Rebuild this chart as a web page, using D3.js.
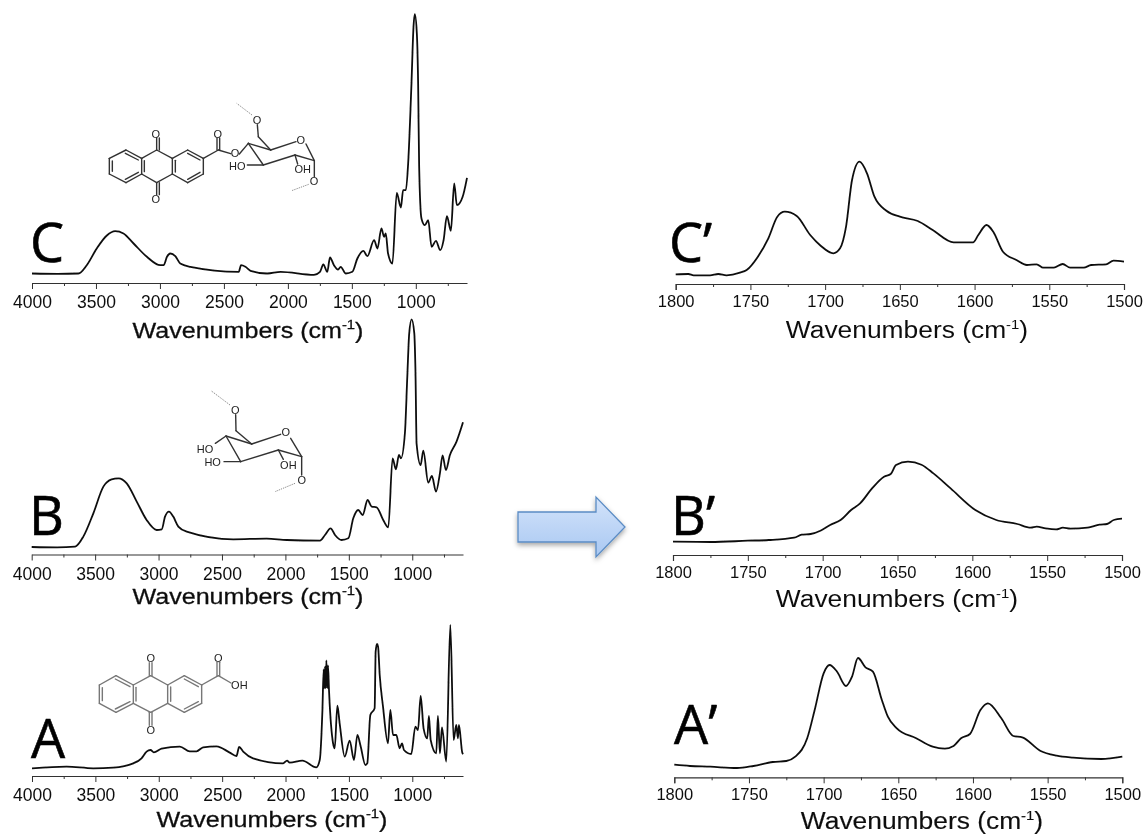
<!DOCTYPE html>
<html>
<head>
<meta charset="utf-8">
<script src="https://cdn.jsdelivr.net/npm/d3@7"></script>
<style>
  html, body { margin: 0; background: #fff; }
  svg { display: block; }
</style>
</head>
<body>
<svg width="1148" height="835"></svg>
<script>
// spectra: wavenumber (cm-1) and intensity (a.u. above baseline)
const cWave = [4000,3800,3637,3572,3494,3415,3350,3285,3206,3102,2997,2971,2945,2919,2880,2841,2762,2384,2366,2332,2292,2162,2057,1796,1749,1723,1692,1671,1640,1608,1587,1548,1496,1457,1410,1379,1326,1300,1269,1248,1235,1217,1183,1149,1117,1099,1078,1060,1034,1018,1008,992,982,974,956,929,903,877,843,809,783,757,726,700,679,634,600];
const cInt = [0,-0.3,0,8.3,25,38,42.3,40,30,16.7,8.3,8.3,16.7,20,17.3,10,6.7,1.7,8.3,6.7,2.7,0,1.7,-1.3,1.7,9,1.7,16,8.3,4,6.7,0,1.7,15,22.7,17.3,33.3,25,45,36.7,40,20,10,80.7,66,83.3,83.3,110,190,247,259.3,240,190,106.7,55,48.3,53.3,26.7,32.7,23.3,33.3,57.3,42.7,90,68.3,76.7,95.7];

const bWave = [4000,3800,3658,3593,3514,3435,3370,3317,3251,3172,3094,3015,2975,2949,2918,2884,2844,2778,2411,2148,1990,1728,1688,1644,1609,1557,1504,1465,1426,1391,1352,1320,1281,1229,1189,1155,1129,1105,1089,1058,1039,1024,1005,984,974,966,934,913,874,845,813,782,761,735,703,651,600];
const bInt = [0.3,0,0.7,10.7,34,60.7,68,69,64,45.7,27.3,17.3,18,30.7,35.7,30.7,20.7,15.7,8,8.7,7.3,6.7,12.3,19,12.3,7.3,9,29,37.3,32.3,47.3,40.7,40,27.3,20,89,78,92.3,89,114,171,214,228,214,171,104,82.3,96.7,64.7,71.3,55.7,74,92,77.3,92.3,105.7,125];

const aWave = [4000,3727,3517,3359,3201,3136,3096,3065,3039,2978,2834,2755,2702,2650,2545,2440,2387,2366,2334,2256,2019,1988,1967,1867,1757,1730,1709,1699,1694,1688,1683,1678,1670,1665,1657,1625,1612,1591,1573,1533,1494,1460,1433,1407,1370,1355,1331,1297,1289,1278,1270,1257,1231,1192,1173,1152,1126,1100,1081,1066,1008,976,955,934,911,882,869,855,811,798,782,766,732,700,674,653,640,632,606,600];
const aInt = [0,1.7,0,0.7,5,10,16.7,18.3,16,19.7,21.7,17,17,21,22,15.7,12.3,21.3,16.7,10,5,7.7,5.7,7.7,1,8.3,58,99,80,101.7,80,108,80,103,78,25,20,62.7,45,11.7,27.7,8.3,33.3,21.7,3.3,5,53.3,60,116.7,124.3,121.7,93.3,61.7,25,58.3,33.3,33.3,20,25,18.3,14.3,41.7,38.3,72.3,40,30,52.3,28.3,15,52.3,15,41,6.7,143.3,28.3,43.3,30,43.3,15.7,14];

const c2Wave = [1800,1791.5,1788,1777,1771.5,1766,1757,1752.5,1745,1738,1732,1727,1719,1710,1703,1694.5,1690,1686,1682,1677,1672,1667,1659,1650,1638,1628,1614,1601,1597.5,1592,1587.5,1581,1572,1565,1558.5,1554,1547,1541,1536,1527,1522,1512,1507,1500];
const c2Int = [0.7,1,-0.3,-0.3,1,-0.3,2.3,5,18.3,36.7,58.3,63.3,59,40,29.3,21.7,26.7,48.3,95,113.3,101.7,78.3,64.3,58.3,54,45,32.7,32.7,40,50,43.3,23.3,15,10,10.7,7.3,7.3,11,7.3,7.3,10,10.7,14.3,13.3];

const b2Wave = [1800,1775,1750,1736,1719,1714,1708,1701.5,1695,1688,1681,1675,1667,1659,1654.5,1651,1643,1634,1626,1614.5,1598,1584,1570,1561,1557,1551,1544,1539.5,1534.5,1523,1515,1510,1505.5,1500];
const b2Int = [0,-0.3,1,1.7,4,7,7.7,11,16.7,21.7,31.7,38.3,53.3,65,67.7,76.7,80,77,68.3,53.3,31.7,21.7,17.7,14,15,13.3,12.3,14,13,14,17,17.7,21.7,23];

const a2Wave = [1800,1789.5,1776,1758,1747,1734,1725,1719,1711,1706,1700,1696,1691,1685,1681,1677,1672,1667,1661,1657,1651,1638,1627,1619,1613,1608,1602,1595,1590,1581,1573,1567,1555,1544,1533,1514,1500];
const a2Int = [0.3,-1,-1.7,-3,-1,3,4,8.3,26.7,55,91.7,100,93.3,79,88.3,107,97.7,93.3,65,48.3,36.7,26.7,18.3,16.3,19,26.7,31,55,61.7,46.7,29,27.7,14.3,9.3,7.3,6,8.3];

const wideTicks = [4000,3500,3000,2500,2000,1500,1000];
const wideMinor = [3750,3250,2750,2250,1750,1250,750];
const narrowTicks = [1800,1750,1700,1650,1600,1550,1500];
const narrowMinor = [1775,1725,1675,1625,1575,1525];

const titleText = "Wavenumbers (cm";

// layout of the six panels
const panels = [
  {label:"C", wave:cWave, val:cInt, dom:[4000,600], x0:32, x1:467, axisY:283, baseY:273.5, lx:30, ly:262, tx:248, ty:338, major:wideTicks, minor:wideMinor, fs:17.5, pad:7, outer:0, tf:22, sx:1.14, ts:0.3},
  {label:"B", wave:bWave, val:bInt, dom:[4000,600], x0:31.7, x1:463, axisY:554.5, baseY:547.3, lx:29, ly:535, tx:248, ty:604, major:wideTicks, minor:wideMinor, fs:17.5, pad:7, outer:0, tf:22, sx:1.14, ts:0.3},
  {label:"A", wave:aWave, val:aInt, dom:[4000,600], x0:32, x1:463, axisY:776, baseY:768.3, lx:31, ly:758, tx:272, ty:827, major:wideTicks, minor:wideMinor, fs:17.5, pad:7, outer:0, tf:22, sx:1.14, ts:0.3},
  {label:"C’", wave:c2Wave, val:c2Int, dom:[1800,1500], x0:675.7, x1:1124, axisY:284, baseY:275, lx:669, ly:262, tx:907, ty:338, major:narrowTicks, minor:narrowMinor, fs:16.5, pad:5, outer:6, tf:23, sx:1.147, ts:0},
  {label:"B’", wave:b2Wave, val:b2Int, dom:[1800,1500], x0:673, x1:1122, axisY:555, baseY:541.7, lx:671, ly:535, tx:897, ty:607, major:narrowTicks, minor:narrowMinor, fs:16.5, pad:5, outer:6, tf:23, sx:1.147, ts:0},
  {label:"A’", wave:a2Wave, val:a2Int, dom:[1800,1500], x0:674.3, x1:1122.3, axisY:777.3, baseY:765, lx:674, ly:744, tx:922, ty:829, major:narrowTicks, minor:narrowMinor, fs:16.5, pad:5, outer:6, tf:23, sx:1.147, ts:0.15}
];

const svg = d3.select("svg");
const sans = "'Liberation Sans', Arial, sans-serif";

const defs = svg.append("defs");
const blur = defs.append("filter").attr("id","soft").attr("x","-2%").attr("y","-2%").attr("width","104%").attr("height","104%");
blur.append("feGaussianBlur").attr("stdDeviation",0.4);
const grad = defs.append("linearGradient").attr("id","arrowFill").attr("x1",0).attr("y1",0).attr("x2",0).attr("y2",1);
grad.append("stop").attr("offset","0%").attr("stop-color","#d3e3fa");
grad.append("stop").attr("offset","100%").attr("stop-color","#a9c8f2");
const shadow = defs.append("filter").attr("id","arrowShadow").attr("x","-20%").attr("y","-20%").attr("width","140%").attr("height","150%");
shadow.append("feDropShadow").attr("dx",0).attr("dy",2.5).attr("stdDeviation",2.5).attr("flood-color","#000").attr("flood-opacity",0.35);

const root = svg.append("g").attr("filter","url(#soft)");

panels.forEach(p => {
  const g = root.append("g");
  const x = d3.scaleLinear().domain(p.dom).range([p.x0, p.x1]);
  const y = d3.scaleLinear().domain([0,100]).range([p.baseY, p.baseY - 100]);

  const minorAxis = d3.axisBottom(x).tickValues(p.minor).tickSize(3).tickFormat("");
  const majorAxis = d3.axisBottom(x).tickValues(p.major).tickSizeInner(6).tickSizeOuter(p.outer).tickPadding(p.pad).tickFormat(d3.format("d"));

  g.append("g").attr("transform",`translate(0,${p.axisY})`).call(minorAxis)
    .call(a => a.select(".domain").remove())
    .call(a => a.selectAll("line").attr("stroke","#333").attr("stroke-width",1));
  const ax = g.append("g").attr("transform",`translate(0,${p.axisY})`).call(majorAxis);
  ax.select(".domain").attr("stroke","#333").attr("stroke-width",1.2);
  ax.selectAll("line").attr("stroke","#333").attr("stroke-width",1);
  ax.selectAll("text").attr("font-family",sans).attr("font-size",p.fs).attr("fill","#111");

  const line = d3.line().x(d => x(d[0])).y(d => y(d[1])).curve(d3.curveMonotoneX);
  g.append("path")
    .datum(d3.zip(p.wave, p.val))
    .attr("fill","none").attr("stroke","#111").attr("stroke-width",1.8).attr("stroke-linejoin","round")
    .attr("d",line);

  g.append("text").attr("x",p.lx).attr("y",p.ly)
    .attr("font-family","'Open Sans', 'Noto Sans', sans-serif").attr("font-size",54).attr("fill","#000")
    .attr("stroke","#000").attr("stroke-width",0.6)
    .text(p.label);

  const t = g.append("text").attr("transform",`translate(${p.tx},${p.ty}) scale(${p.sx},1)`).attr("text-anchor","middle")
    .attr("font-family",sans).attr("font-size",p.tf).attr("fill","#111").attr("stroke","#111").attr("stroke-width",p.ts);
  t.append("tspan").text(titleText);
  t.append("tspan").attr("font-size",13).attr("dy",-9).text("-1");
  t.append("tspan").attr("dy",9).text(")");
});

// blue arrow between the two columns
root.append("path")
  .attr("d","M518,512 L596,512 L596,497 L625,527 L596,557 L596,542 L518,542 Z")
  .attr("fill","url(#arrowFill)").attr("stroke","#5b8cc4").attr("stroke-width",1.3)
  .attr("filter","url(#arrowShadow)");

// structure sketches, drawn in 3x crop coordinates
function molecule(ox, oy, color, bonds, dashed, atoms) {
  const m = root.append("g").attr("transform",`translate(${ox},${oy}) scale(${1/3})`);
  m.selectAll("line.b").data(bonds).enter().append("line").attr("class","b")
    .attr("x1",d=>d[0]).attr("y1",d=>d[1]).attr("x2",d=>d[2]).attr("y2",d=>d[3])
    .attr("stroke",color).attr("stroke-width",4.2).attr("stroke-linecap","round");
  m.selectAll("line.d").data(dashed).enter().append("line").attr("class","d")
    .attr("x1",d=>d[0]).attr("y1",d=>d[1]).attr("x2",d=>d[2]).attr("y2",d=>d[3])
    .attr("stroke","#777").attr("stroke-width",2.5).attr("stroke-dasharray","4 3");
  m.selectAll("text").data(atoms).enter().append("text")
    .attr("x",d=>d[1]).attr("y",d=>d[2]).attr("text-anchor","middle").attr("dominant-baseline","central")
    .attr("font-family",sans).attr("font-size",33).attr("fill","#222").text(d=>d[0]);
}

function anthra(rx) {
  // three fused rings from corner columns and rows
  const [x0,x1,x2,x3,x4,x5,x6, t,u,l,b] = rx;
  return [
    [x0,u,x1,t],[x1,t,x2,u],[x2,u,x2,l],[x2,l,x1,b],[x1,b,x0,l],[x0,l,x0,u],
    [x2,u,x3,t],[x3,t,x4,u],[x4,u,x4,l],[x4,l,x3,b],[x3,b,x2,l],
    [x4,u,x5,t],[x5,t,x6,u],[x6,u,x6,l],[x6,l,x5,b],[x5,b,x4,l],
    // inner double bonds
    [x0+9,u+8,x0+9,l-8],[x1-2,t+10,x2-10,u+5],[x1-2,b-10,x2-10,l-5],
    [x4+9,u+6,x4+9,l-6],[x5,t+10,x6-10,u+5],[x5,b-10,x6-10,l-5],[x2+8,u+7,x2+8,l-7]
  ];
}

// C: ester of the acid on the sugar
molecule(0,0,"#333",
  anthra([328,378,425,470,517,563,610,450,475,522,548]).concat([
    [470,450,470,414],[478,450,478,414],[470,548,470,584],[478,548,478,584],
    [610,475,655,450],[651,450,651,414],[659,450,659,414],[655,450,692,461],
    [718,462,745,430],[745,430,812,450],[812,450,888,425],[918,432,943,482],[943,482,885,465],[885,465,790,495],[790,495,745,430],
    [812,450,775,410],[775,410,772,374],[790,495,742,495],[885,465,893,492],[943,482,943,530]
  ]),
  [[756,345,710,310],[926,553,875,572]],
  [["O",467,401],["O",467,597],["O",653,401],["O",705,459],["O",771,360],["O",902,420],["O",942,544],["HO",712,499],["OH",908,507]]);

// B: glucose unit
molecule(0,310,"#333",
  [[678,378,755,402],[755,402,842,373],[872,385,905,440],[905,440,835,420],[835,420,722,455],[722,455,678,378],
   [755,402,708,362],[708,362,707,314],[678,378,646,400],[722,455,672,455],[835,420,850,448],[905,440,905,495]],
  [[690,285,633,242],[885,520,825,545]],
  [["O",706,299],["O",857,367],["O",905,509],["HO",615,417],["HO",638,455],["OH",865,465]]);

// A: free acid, rings drawn in grey
molecule(0,610,"#777",
  anthra([298,348,400,452,503,553,605,197,225,280,307]).concat([
    [448,197,448,158],[456,197,456,158],[448,307,448,346],[456,307,456,346],
    [605,225,655,197],[651,197,651,157],[659,197,659,157],[655,197,693,219]
  ]),
  [],
  [["O",452,145],["O",452,360],["O",655,143],["OH",718,226]]);
</script>
</body>
</html>
